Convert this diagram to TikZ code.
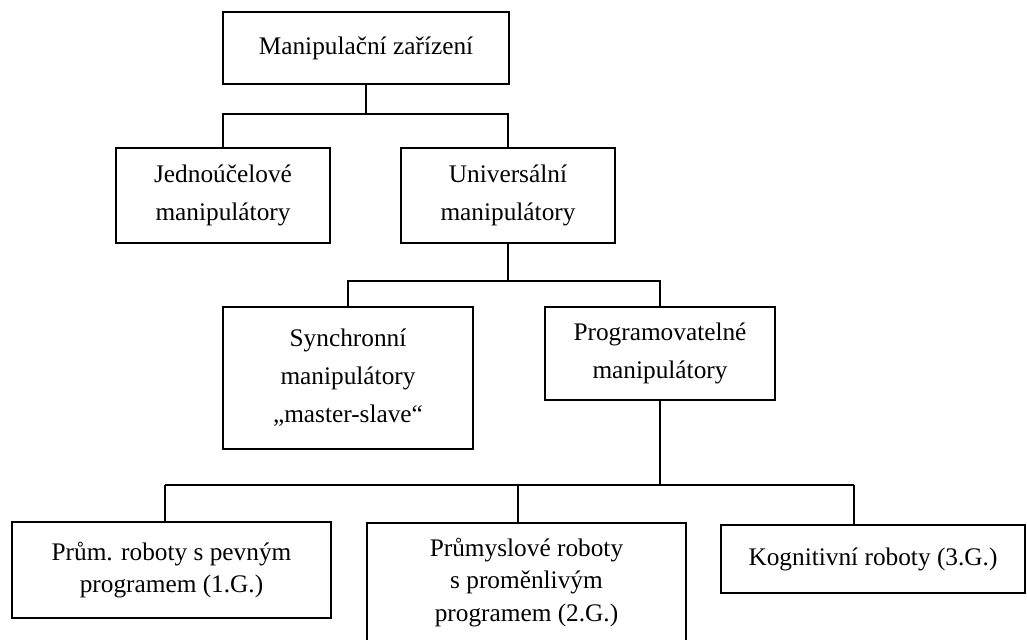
\documentclass[tikz,border=0pt]{standalone}
\usepackage{fontspec}
\setmainfont{Liberation Serif}

\begin{document}
\begin{tikzpicture}[x=0.025cm,y=-0.025cm,line width=1.3pt,
		box/.style={draw,align=center,inner sep=0pt,font=\fontsize{18}{27}\selectfont},
		lowbox/.style={box,font=\fontsize{18}{23}\selectfont}]
		\useasboundingbox (0,0) rectangle (1027,639);
		\node[box,minimum width=7.15cm,minimum height=1.8cm] (mz) at (366,48) {Manipulační zařízení};
		\node[box,minimum width=5.35cm,minimum height=2.375cm] (jm) at (223,195.5) {Jednoúčelové\\manipulátory};
		\node[box,minimum width=5.35cm,minimum height=2.375cm] (um) at (508,195.5) {Universální\\manipulátory};
		\node[box,minimum width=6.25cm,minimum height=3.55cm] (sm) at (348,378) {Synchronní\\manipulátory\\„master-slave“};
		\node[box,minimum width=5.75cm,minimum height=2.325cm] (pm) at (660,353.5) {Programovatelné\\manipulátory};
		\node[lowbox,minimum width=7.975cm,minimum height=2.4cm] (pr1) at (171.5,570) {Prům. roboty s pevným\\programem (1.G.)};
		\node[lowbox,minimum width=7.975cm,minimum height=2.975cm] (pr2) at (526.5,582.5) {Průmyslové roboty\\s proměnlivým\\programem (2.G.)};
		\node[lowbox,minimum width=7.6cm,minimum height=1.7cm] (kr) at (873,559) {Kognitivní roboty (3.G.)};

		\draw (mz.south) -- ++(0,29) -| (jm.north);
		\draw (mz.south) -- ++(0,29) -| (um.north);
		\draw (um.south) -- ++(0,37) -| (sm.north);
		\draw (um.south) -- ++(0,37) -| (pm.north);

		\coordinate (c1) at (165,485);
		\coordinate (c2) at (518,485);
		\coordinate (c3) at (854,485);
		\draw (pm.south) -- (pm.south |- c1);
		\draw (c1) -- (c3);
		\draw (c1) -- (c1 |- pr1.north);
		\draw (c2) -- (c2 |- pr2.north);
		\draw (c3) -- (c3 |- kr.north);
\end{tikzpicture}
\end{document}
